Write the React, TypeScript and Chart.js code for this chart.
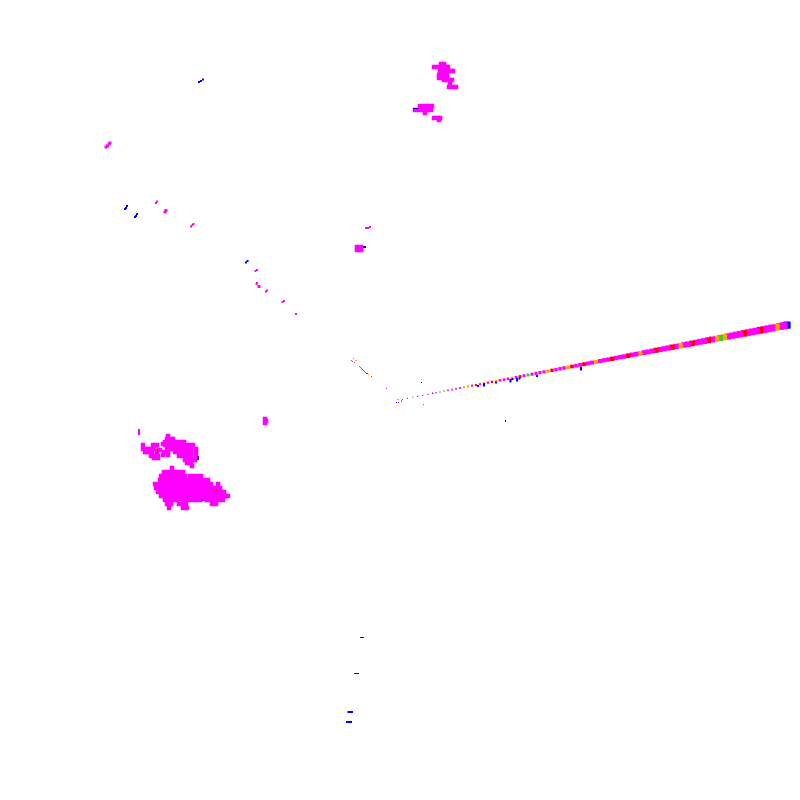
import React, { useEffect, useRef } from "react";
import { Chart, registerables } from "chart.js";

Chart.register(...registerables);

type P = [number, number];

const MAGENTA = "#ff00ff";
const BLUE = "#0000ff";
const RED = "#ff0000";
const ORANGE = "#ffa500";
const GREEN = "#32cd32";

// Large clusters
const clusterSouth: P[] = [
  [172, 468],
  [164, 472], [168, 472], [172, 472], [176, 472], [180, 472], [183, 472],
  [161, 476], [165, 476], [169, 476], [173, 476], [177, 476], [181, 476], [185, 476], [190, 476], [194, 476], [198, 476], [201, 476],
  [160, 480], [164, 480], [168, 480], [172, 480], [176, 480], [180, 480], [184, 480], [188, 480], [192, 480], [196, 480], [200, 480], [204, 480], [208, 480],
  [155, 484], [159, 484], [163, 484], [167, 484], [171, 484], [175, 484], [179, 484], [183, 484], [187, 484], [191, 484], [195, 484], [199, 484], [203, 484], [207, 484], [211, 484], [218, 484],
  [156, 488], [160, 488], [164, 488], [168, 488], [172, 488], [176, 488], [180, 488], [184, 488], [188, 488], [192, 488], [196, 488], [200, 488], [204, 488], [208, 488], [212, 488], [216, 488], [220, 488],
  [158, 492], [162, 492], [166, 492], [170, 492], [174, 492], [178, 492], [182, 492], [186, 492], [190, 492], [194, 492], [198, 492], [202, 492], [206, 492], [210, 492], [214, 492], [218, 492], [222, 492], [224, 492],
  [161, 496], [165, 496], [169, 496], [173, 496], [177, 496], [181, 496], [185, 496], [189, 496], [193, 496], [197, 496], [201, 496], [205, 496], [209, 496], [213, 496], [217, 496], [221, 496], [225, 496], [228, 496],
  [165, 500], [169, 500], [173, 500], [177, 500], [181, 499], [184, 500], [188, 500], [192, 500], [196, 500], [200, 500], [204, 499], [207, 500], [211, 500], [215, 500], [219, 500], [223, 500],
  [167, 504], [171, 504], [179, 504], [183, 504], [186, 504], [212, 504], [216, 504],
  [169, 508], [183, 508], [187, 508],
];

const clusterWest: P[] = [
  [168, 436],
  [167, 439], [171, 439], [173, 439],
  [165, 442], [169, 442], [173, 442], [177, 442], [181, 442], [184, 442],
  [143, 445], [153, 445], [157, 445], [163, 444], [165, 445], [169, 445], [173, 445], [177, 445], [181, 445], [185, 445], [189, 445], [193, 445],
  [143, 449], [147, 449], [150, 449], [153, 449], [156, 449], [160, 450], [167, 449], [171, 449], [175, 449], [179, 449], [183, 449], [187, 449], [191, 449], [196, 449],
  [145, 452], [147, 452], [149, 452], [152, 452], [157, 452], [164, 452], [168, 452], [175, 452], [179, 452], [183, 452], [187, 452], [191, 452], [196, 452],
  [151, 456], [155, 456], [158, 456], [163, 455], [168, 455], [179, 456], [183, 456], [187, 456], [191, 456], [196, 456],
  [154, 458], [158, 458], [185, 460], [189, 460], [193, 460], [195, 460],
  [187, 463], [191, 463], [192, 466],
  [265, 419], [266, 421], [265, 423],
];

const clusterNorth: P[] = [
  [441, 64], [444, 64],
  [434, 67], [438, 67], [442, 67], [446, 67], [448, 67],
  [440, 71], [444, 71], [448, 71], [452, 71], [453, 71],
  [439, 75], [443, 75], [447, 75], [439, 78], [443, 78], [447, 78],
  [444, 80], [448, 80], [452, 80], [450, 84],
  [449, 87], [453, 87], [456, 87],
  [420, 106], [424, 106], [428, 106], [432, 106],
  [415, 110], [419, 110], [423, 110], [427, 110], [431, 110], [425, 113],
  [434, 118], [438, 118], [440, 118], [439, 120],
  [357, 247], [361, 247], [358, 248], [357, 250], [361, 250],
];

// Small marks
const smallMagenta: P[] = [
  [139, 430], [139, 432], [139, 434],
  [156, 203], [157, 201.5],
  [191, 226.5], [192.5, 225], [193.5, 224],
  [255.5, 271], [257, 270], [256.5, 284], [257, 283],
  [266, 291.5], [267, 290.5], [282.5, 302], [284, 301], [296, 314],
  [366, 228], [368, 228], [370, 227],
];

const mediumMagenta: P[] = [
  [106, 147], [107.5, 146], [109, 144], [110, 143],
  [165, 212], [166, 210.5], [259, 286.5],
];

const bluePoints: P[] = [
  [125, 209], [126, 208], [127, 206],
  [135, 217], [136, 216], [137, 214],
  [199, 82], [201, 81], [203, 79.5],
  [246, 262.5], [247.5, 261],
  [364, 247], [365, 247],
  [198, 457], [198, 459], [478, 386], [484, 384], [484, 385.5], [496, 382.5], [510.5, 380], [510.5, 381.5], [512.5, 379], [517, 379], [517, 380.5], [519.5, 378.5],
  [537, 376], [581, 368], [581, 369.5],
  [349, 722], [351, 722], [347, 722], [350, 712], [352, 712], [348.5, 712],
];

const blueHairline: P[] = [
  [360.5, 637.5], [361.5, 637.5], [362.5, 637.5], [363.5, 637.5],
  [354.5, 673.5], [355.5, 673.5], [356.5, 673.5], [357.5, 673.5], [358.5, 673.5],
  [413.5, 108.5], [414.5, 108.5], [415.5, 108.5], [416.5, 108.5], [417.5, 108.5],
  [421.5, 382.5], [505.5, 420.5], [505.5, 421.5], [396.5, 402.5],
  [187.5, 497.5], [187.5, 498.5], [201.5, 499.5], [202.5, 500.5], [157.5, 450.5], [157.5, 452.5],
];

const fineMagenta: P[] = [
  [351.5, 360.5], [352.5, 361.5], [354.5, 362.5],
  [359.5, 366.5], [360.5, 367.5], [361.5, 368.5], [362.5, 369.5], [363.5, 370.5], [364.5, 371.5], [365.5, 372.5],
  [371.5, 376.5], [386.5, 388.5], [398.5, 402.5], [402.5, 399.5], [401.5, 401.5], [407.5, 398.5], [423.5, 404.5],
];

const fineRed: P[] = [[366.5, 373.5], [367.5, 373.5], [216.5, 490.5]];
const fineOrange: P[] = [[356.5, 360.5], [355.5, 360.5], [368.5, 374.5], [397.5, 399.5], [398.5, 399.5], [156.5, 447.5], [156.5, 448.5]];
const fineLime: P[] = [[353.5, 358.5]];

// The long streak: position along it, height, and colour code
const streakX = [
  401.5, 407.3, 412.7, 417.7, 422.7, 428, 432.7,
  436, 440, 444, 448, 452, 456, 460, 464, 468, 472, 476, 480, 484, 488, 492, 496,
  500, 504, 508, 512, 516, 520, 524, 528, 532, 536, 540, 544, 548, 552, 556, 560,
  564, 568, 572, 576, 580, 584, 588, 592, 596, 600, 604, 608, 612, 616, 620, 624,
  628, 632, 636, 640, 644, 648, 652, 656, 660, 664, 668, 672, 676, 680, 684, 688,
  692, 696, 700, 704, 708, 712, 716, 720, 724, 728, 732, 736, 740, 744, 748, 752,
  756, 760, 764, 768, 772, 776, 780, 784, 787,
];
const streakY = [
  400.7, 398.3, 397.3, 396.3, 395.3, 394.3, 393.3,
  392.7, 391.9, 391.1, 390.4, 389.6, 388.8, 388.0, 387.3, 386.5, 385.7, 385.0, 384.2, 383.4, 382.7, 381.9, 381.1,
  380.3, 379.6, 378.8, 378.0, 377.3, 376.5, 375.7, 375.0, 374.2, 373.4, 372.6, 371.9, 371.1, 370.3, 369.6, 368.8,
  368.0, 367.3, 366.5, 365.7, 364.9, 364.2, 363.4, 362.6, 361.9, 361.1, 360.3, 359.6, 358.8, 358.0, 357.2, 356.5,
  355.7, 354.9, 354.2, 353.4, 352.6, 351.9, 351.1, 350.3, 349.5, 348.8, 348.0, 347.2, 346.5, 345.7, 344.9, 344.2,
  343.4, 342.6, 341.8, 341.1, 340.3, 339.5, 338.8, 338.0, 337.2, 336.5, 335.7, 334.9, 334.1, 333.4, 332.6, 331.8,
  331.1, 330.3, 329.5, 328.8, 328.0, 327.2, 326.4, 325.7, 325.1,
];
const streakCodes = (
  "m m m b m m r " +
  "m g o m m m m o o m r m o m r o " +
  "m m m o m r m g m m m m o r m m " +
  "m o r m m r m m o m m m r m m m " +
  "r m m o m m m r m m m r m o m m " +
  "r m m m r m o g o m m m m r m m " +
  "m r m m m o m m b"
).trim().split(" ");

const codeColor: Record<string, string> = { m: MAGENTA, r: RED, o: ORANGE, g: GREEN, b: BLUE };

const radiusForSide = (side: number) => side / Math.SQRT2;
const toXY = (list: P[]) => list.map(([x, y]) => ({ x, y }));

const streakPoints = streakX
  .map((x, i) => ({ x, y: streakY[i], c: codeColor[streakCodes[i]] || MAGENTA }))
  .reverse();

const layer = (label: string, list: P[], color: string, side: number) => ({
  label,
  data: toXY(list),
  backgroundColor: color,
  borderWidth: 0,
  pointStyle: "rect" as const,
  pointRadius: radiusForSide(side),
  showLine: false,
});

export default function App() {
  const ref = useRef<HTMLCanvasElement>(null);
  useEffect(() => {
    if (!ref.current) return;
    const chart = new Chart(ref.current, {
      type: "scatter",
      data: {
        datasets: [
          layer("blue fine", blueHairline, BLUE, 1),
          layer("red", fineRed, RED, 1),
          layer("orange", fineOrange, ORANGE, 1),
          layer("lime", fineLime, GREEN, 1),
          layer("magenta fine", fineMagenta, MAGENTA, 1),
          layer("blue", bluePoints, BLUE, 2),
          {
            label: "streak",
            data: streakPoints as any,
            showLine: false,
            borderWidth: 0,
            pointStyle: "rect",
            backgroundColor: (c: any) => (c.raw ? c.raw.c : MAGENTA),
            pointRadius: (c: any) =>
              radiusForSide(c.raw ? 0.8 + 0.0165 * (c.raw.x - 397) : 1),
          },
          layer("magenta small", smallMagenta, MAGENTA, 2),
          layer("magenta medium", mediumMagenta, MAGENTA, 3),
          layer("north", clusterNorth, MAGENTA, 4.5),
          layer("west", clusterWest, MAGENTA, 4.5),
          layer("south", clusterSouth, MAGENTA, 4.5),
        ] as any,
      },
      options: {
        animation: false,
        responsive: false,
        devicePixelRatio: 1,
        layout: { padding: 0, autoPadding: false },
        plugins: { legend: { display: false }, tooltip: { enabled: false } },
        scales: {
          x: { type: "linear", min: 0, max: 800, display: false },
          y: { type: "linear", min: 0, max: 800, reverse: true, display: false },
        },
      },
    });
    return () => chart.destroy();
  }, []);
  return (
    <div style={{ position: "fixed", left: 0, top: 0, width: 800, height: 800, background: "#fff" }}>
      <canvas ref={ref} width={800} height={800} style={{ display: "block" }} />
    </div>
  );
}
